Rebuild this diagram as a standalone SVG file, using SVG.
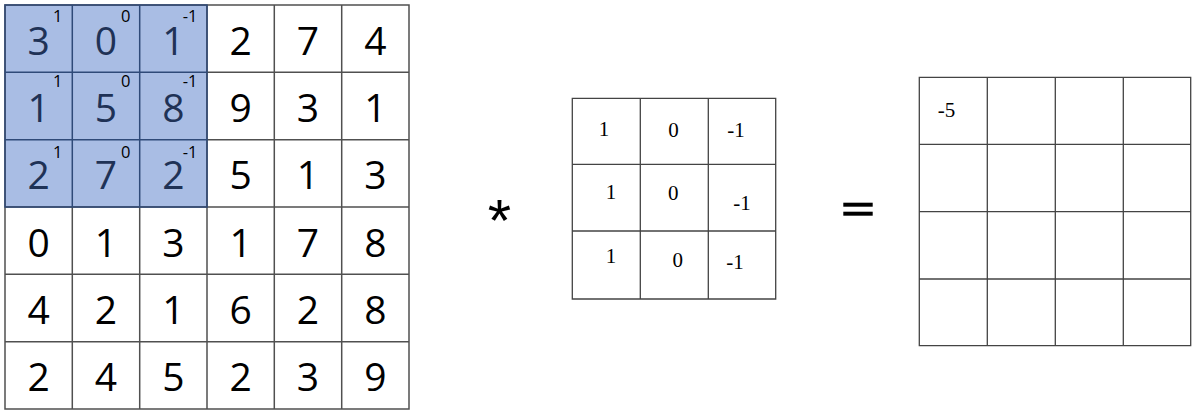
<svg xmlns="http://www.w3.org/2000/svg" width="1198" height="416" viewBox="0 0 1198 416">
<style>
.big{font-family:"Open Sans","Liberation Sans",sans-serif;font-size:39px;text-anchor:middle;fill:#000}
.bigb{font-family:"Open Sans","Liberation Sans",sans-serif;font-size:39px;text-anchor:middle;fill:#1F3256}
.sup{font-family:"Open Sans","Liberation Sans",sans-serif;font-size:16.5px;text-anchor:end;fill:#000}
.ser{font-family:"Liberation Serif",serif;font-size:21px;text-anchor:middle;fill:#000}
.gl{stroke:#505050;stroke-width:1.5;fill:none}
.gb{stroke:#2F4A78;stroke-width:1.5;fill:none}
.gk{stroke:#444;stroke-width:1.3;fill:none}
.op{font-family:"Liberation Sans",sans-serif;fill:#000;text-anchor:middle}
</style>
<rect width="1198" height="416" fill="#fff"/>
<g id="input-matrix">
<rect x="5" y="5" width="202" height="202" fill="#A9BDE4"/>
<path class="gl" d="M5 5H409V409H5Z M72.3 207V409 M139.7 207V409 M207 5V409 M274.3 5V409 M341.7 5V409 M5 274.3H409 M5 341.7H409 M207 72.3H409 M207 139.7H409 M5 207H409"/>
<path class="gb" d="M5 5H207V207H5Z M72.3 5V207 M139.7 5V207 M5 72.3H207 M5 139.7H207"/>
<g class="bigb">
<text x="38.7" y="54.5">3</text><text x="106" y="54.5">0</text><text x="173.3" y="54.5">1</text>
<text x="38.7" y="121.8">1</text><text x="106" y="121.8">5</text><text x="173.3" y="121.8">8</text>
<text x="38.7" y="189.2">2</text><text x="106" y="189.2">7</text><text x="173.3" y="189.2">2</text>
</g>
<g class="sup">
<text x="62.5" y="21.5">1</text><text x="130.5" y="21.5">0</text><text x="197.5" y="21.5">-1</text>
<text x="62.5" y="86.5">1</text><text x="130.5" y="86.5">0</text><text x="197.5" y="86.5">-1</text>
<text x="62.5" y="157.5">1</text><text x="130.5" y="157.5">0</text><text x="197.5" y="157.5">-1</text>
</g>
<g class="big">
<text x="240.7" y="54.5">2</text><text x="308" y="54.5">7</text><text x="375.3" y="54.5">4</text>
<text x="240.7" y="121.8">9</text><text x="308" y="121.8">3</text><text x="375.3" y="121.8">1</text>
<text x="240.7" y="189.2">5</text><text x="308" y="189.2">1</text><text x="375.3" y="189.2">3</text>
<text x="38.7" y="256.5">0</text><text x="106" y="256.5">1</text><text x="173.3" y="256.5">3</text><text x="240.7" y="256.5">1</text><text x="308" y="256.5">7</text><text x="375.3" y="256.5">8</text>
<text x="38.7" y="323.8">4</text><text x="106" y="323.8">2</text><text x="173.3" y="323.8">1</text><text x="240.7" y="323.8">6</text><text x="308" y="323.8">2</text><text x="375.3" y="323.8">8</text>
<text x="38.7" y="391.2">2</text><text x="106" y="391.2">4</text><text x="173.3" y="391.2">5</text><text x="240.7" y="391.2">2</text><text x="308" y="391.2">3</text><text x="375.3" y="391.2">9</text>
</g>
</g>
<g id="op-conv">
<text class="op" x="499.5" y="241" font-size="60">*</text>
</g>
<g id="kernel">
<path class="gk" d="M572.3 98.3H775.7V299H572.3Z M640.3 98.3V299 M708.3 98.3V299 M572.3 164.3H775.7 M572.3 231H775.7"/>
<g class="ser">
<text x="604" y="135.7">1</text><text x="673.5" y="136.7">0</text><text x="736" y="137">-1</text>
<text x="611" y="199.3">1</text><text x="673.3" y="200">0</text><text x="742" y="210">-1</text>
<text x="611" y="263.3">1</text><text x="677.7" y="266.7">0</text><text x="735" y="269.3">-1</text>
</g>
</g>
<g id="op-eq">
<rect x="843.3" y="202.7" width="29.4" height="4" fill="#000"/>
<rect x="843.3" y="211.7" width="29.4" height="4" fill="#000"/>
</g>
<g id="output-matrix">
<path class="gk" d="M919.3 77.3H1190.7V345.7H919.3Z M987.3 77.3V345.7 M1055.3 77.3V345.7 M1123.3 77.3V345.7 M919.3 144.3H1190.7 M919.3 211.7H1190.7 M919.3 279H1190.7"/>
<text class="ser" x="946.5" y="116.5" font-size="17">-5</text>
</g>
<g id="connectors"/>
</svg>
